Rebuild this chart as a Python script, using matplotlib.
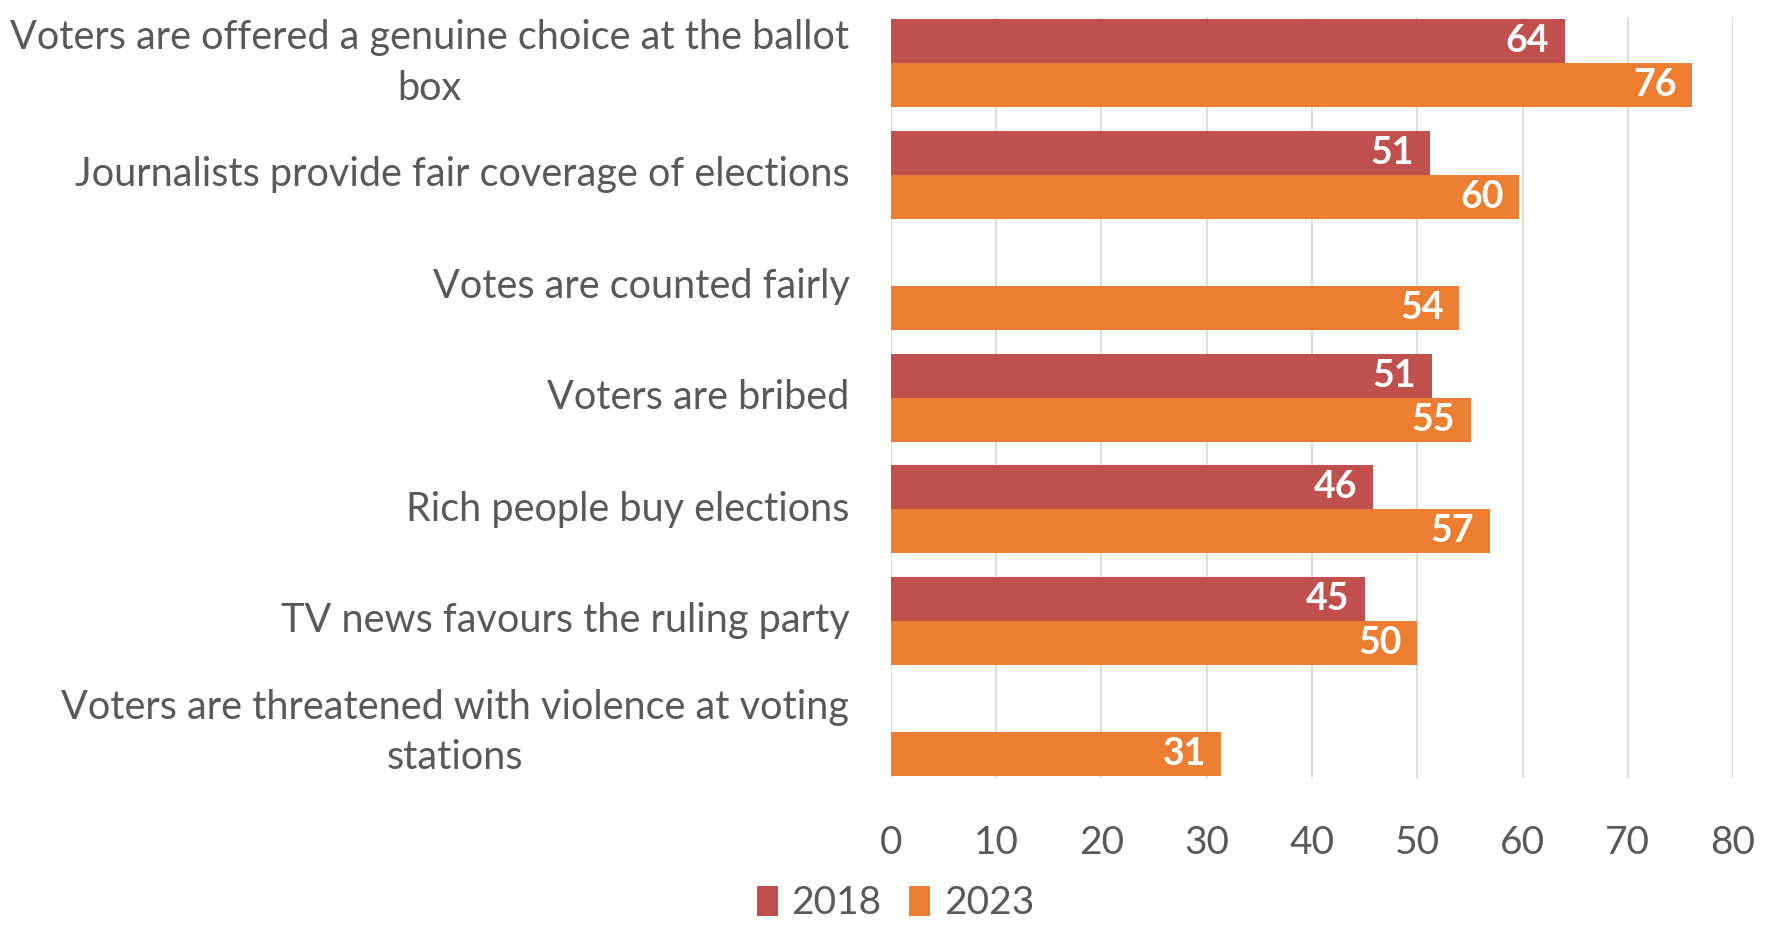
import matplotlib.pyplot as plt
import numpy as np

categorias = [
    "Voters are offered a genuine choice at the ballot\nbox",
    "Journalists provide fair coverage of elections",
    "Votes are counted fairly",
    "Voters are bribed",
    "Rich people buy elections",
    "TV news favours the ruling party",
    "Voters are threatened with violence at voting\nstations",
]
valores_2018 = [64.0, 51.2, np.nan, 51.4, 45.8, 45.0, np.nan]
valores_2023 = [76.1, 59.7, 54.0, 55.1, 56.9, 50.0, 31.4]
ticks_x = [0, 10, 20, 30, 40, 50, 60, 70, 80]

gris = '#595959'
rojo = '#C0504D'
naranja = '#ED7D31'

plt.rcParams['font.family'] = ['Lato', 'DejaVu Sans']

fig = plt.figure(figsize=(17.73, 9.33), dpi=100)
ax = fig.add_axes([0.5025, 0.166, 0.475, 0.816])

y = np.arange(len(categorias))
alto = 0.395
barras_2018 = ax.barh(y - alto / 2, valores_2018, height=alto, color=rojo, label='2018', zorder=3)
barras_2023 = ax.barh(y + alto / 2, valores_2023, height=alto, color=naranja, label='2023', zorder=3)

for barras, valores in [(barras_2018, valores_2018), (barras_2023, valores_2023)]:
    for b, v in zip(barras, valores):
        if np.isnan(v):
            continue
        ax.text(v - 1.5, b.get_y() + b.get_height() / 2, f'{v:.0f}', ha='right', va='center',
                color='white', fontsize=27, fontweight='bold', zorder=4)

ax.set_ylim(len(categorias) - 1 + 0.41, -0.415)
ax.set_xlim(0, 80)
ax.set_xticks(ticks_x)
ax.set_yticks(y)
ax.set_yticklabels(categorias)
for t in ax.get_yticklabels():
    t.set_multialignment('center')
    t.set_linespacing(1.45)
    t.set_verticalalignment('center')
ax.tick_params(axis='y', length=0, pad=30, labelsize=28.5, labelcolor=gris)
ax.tick_params(axis='x', length=0, pad=34, labelsize=28, labelcolor=gris)
ax.grid(axis='x', color='#D9D9D9', linewidth=1.3, zorder=0)
for s in ax.spines.values():
    s.set_visible(False)

leg = fig.legend(loc='lower center', bbox_to_anchor=(0.505, -0.025), ncol=2, frameon=False,
                 fontsize=28, labelcolor=gris, handlelength=0.55, handleheight=0.8,
                 handletextpad=0.35, columnspacing=0.7)

plt.savefig('out.png', dpi=100)
